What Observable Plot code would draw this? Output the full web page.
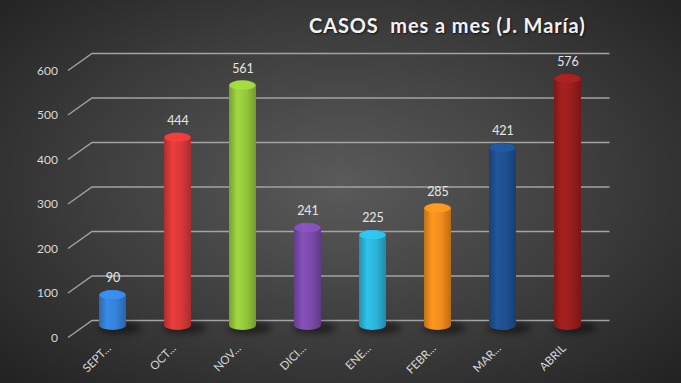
<!DOCTYPE html>
<html>
<head>
<meta charset="utf-8">
<script src="https://cdn.jsdelivr.net/npm/d3@7"></script>
<script src="https://cdn.jsdelivr.net/npm/@observablehq/plot@0.6"></script>
<style>
  html, body { margin: 0; padding: 0; }
  body {
    width: 681px; height: 383px; overflow: hidden;
    background: radial-gradient(ellipse 75% 80% at 50% 48%, #5a5a5a 0%, #3d3d3d 50%, #1d1d1d 100%);
    font-family: Lato, "Open Sans", sans-serif;
  }
  #wrap { position: relative; width: 681px; height: 383px; }
  #chart { position: absolute; left: 0; top: 0; }
  #title {
    position: absolute; left: 309px; top: 13px;
    font-size: 20px; font-weight: bold; color: #f2f2f2; white-space: pre;
    text-shadow: 1px 1px 2px rgba(0,0,0,0.7); letter-spacing: 0.9px;
  }
  svg { background: transparent !important; }
</style>
</head>
<body>
<div id="wrap">
  <div id="chart"></div>
  <div id="title">CASOS  mes a mes (J. María)</div>
</div>
<script>
const categories = ["SEPT...", "OCT...", "NOV...", "DICI...", "ENE...", "FEBR...", "MAR...", "ABRIL"];
const values = [90, 444, 561, 241, 225, 285, 421, 576];
const colors = ["#3480d6", "#d93838", "#93c63b", "#7b4bab", "#2bb2d8", "#f08a1c", "#1f4f8e", "#9a1e1e"];
const yTicks = [0, 100, 200, 300, 400, 500, 600];

const data = categories.map((c, i) => ({cat: c, v: values[i], i}));

const grid = Plot.ruleY(yTicks, {
  render: (index, scales, vals, dims) => {
    const g = d3.create("svg:g");
    const xf = dims.marginLeft - 11.5;
    const xb = dims.marginLeft + 12.5;
    const xr = dims.width - dims.marginRight + 10;
    for (const i of index) {
      const y = scales.y(yTicks[i]);
      g.append("path")
        .attr("d", `M${xf},${y + 7.5}L${xb},${y - 9.5}L${xr},${y - 9.5}`)
        .attr("fill", "none")
        .attr("stroke", "#a3a3a3")
        .attr("stroke-width", 1.4);
    }
    return g.node();
  }
});

const bars = Plot.barY(data, {
  x: "cat", y: "v", fill: d => `url(#cyl${d.i})`, rx: 13.5, ry: 5,
  render: (index, scales, vals, dims, context, next) => {
    const g = d3.select(next(index, scales, vals, dims, context));
    const shadows = g.insert("g", ":first-child");
    for (const i of index) {
      const x1 = vals.x1 ? vals.x1[i] : vals.x[i];
      const x2 = vals.x2 ? vals.x2[i] : x1 + scales.x.bandwidth();
      const top = Math.min(vals.y1[i], vals.y2[i]);
      const bot = Math.max(vals.y1[i], vals.y2[i]);
      const cx = (x1 + x2) / 2, rw = (x2 - x1) / 2;
      shadows.append("ellipse")
        .attr("cx", cx + 7).attr("cy", bot - 2).attr("rx", rw + 8).attr("ry", 6)
        .attr("fill", "#000").attr("opacity", 0.45).attr("filter", "url(#blur)");
      g.append("ellipse")
        .attr("cx", cx).attr("cy", top + 5).attr("rx", rw - 0.5).attr("ry", 4.5)
        .attr("fill", d3.color(colors[data[i].i]).brighter(0.35).formatHex())
        .attr("opacity", 0.85);
    }
    return g.node();
  }
});

const plot = Plot.plot({
  width: 681,
  height: 383,
  marginLeft: 79.5,
  marginRight: 81.5,
  marginTop: 63,
  marginBottom: 53,
  style: {background: "transparent", fontFamily: "Lato, 'Open Sans', sans-serif"},
  color: {type: "identity"},
  x: {domain: categories, paddingInner: 0.585, paddingOuter: 0.2925, label: null},
  y: {domain: [0, 600], label: null},
  marks: [
    grid,
    Plot.axisY({ticks: yTicks, tickSize: 0, tickPadding: 22, dy: 7.5, fill: "#d9d9d9", fontSize: 12, label: null}),
    Plot.axisX({tickSize: 0, tickRotate: -45, tickPadding: 16, dx: -4, fill: "#d9d9d9", fontSize: 11.5, label: null}),
    bars,
    Plot.text(data, {x: "cat", y: "v", text: d => String(d.v), dy: -12, fill: "#e6e6e6", fontSize: 12.5})
  ]
});

// cylinder gradients
const svg = d3.select(plot);
const defs = svg.insert("defs", ":first-child");
defs.append("filter").attr("id", "blur").attr("x", "-50%").attr("y", "-100%").attr("width", "200%").attr("height", "300%")
  .append("feGaussianBlur").attr("stdDeviation", 3);
colors.forEach((c, i) => {
  const base = d3.color(c);
  const lg = defs.append("linearGradient").attr("id", `cyl${i}`).attr("x1", "0").attr("x2", "1").attr("y1", "0").attr("y2", "0");
  lg.append("stop").attr("offset", "0%").attr("stop-color", base.darker(0.6).formatHex());
  lg.append("stop").attr("offset", "30%").attr("stop-color", base.brighter(0.25).formatHex());
  lg.append("stop").attr("offset", "65%").attr("stop-color", base.formatHex());
  lg.append("stop").attr("offset", "100%").attr("stop-color", base.darker(0.7).formatHex());
});

document.getElementById("chart").appendChild(plot);
</script>
</body>
</html>
